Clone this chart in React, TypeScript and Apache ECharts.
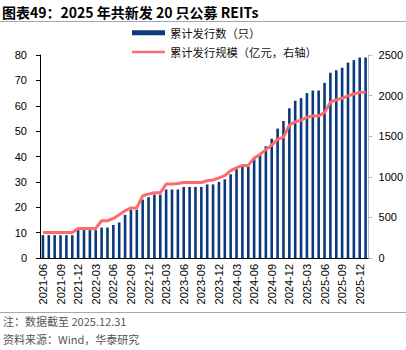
import React, { useEffect, useRef } from "react";
import * as echarts from "echarts";

const categories = [
  "2021-06", "2021-07", "2021-08", "2021-09", "2021-10", "2021-11", "2021-12",
  "2022-01", "2022-02", "2022-03", "2022-04", "2022-05", "2022-06", "2022-07", "2022-08", "2022-09", "2022-10", "2022-11", "2022-12",
  "2023-01", "2023-02", "2023-03", "2023-04", "2023-05", "2023-06", "2023-07", "2023-08", "2023-09", "2023-10", "2023-11", "2023-12",
  "2024-01", "2024-02", "2024-03", "2024-04", "2024-05", "2024-06", "2024-07", "2024-08", "2024-09", "2024-10", "2024-11", "2024-12",
  "2025-01", "2025-02", "2025-03", "2025-04", "2025-05", "2025-06", "2025-07", "2025-08", "2025-09", "2025-10", "2025-11", "2025-12",
  "2025-12-31",
];

const issueCount = [
  9, 9, 9, 9, 9, 9, 11,
  11, 11, 11, 12, 12, 13, 14, 17, 19, 19, 23, 24,
  25, 25, 27, 27, 27, 28, 28, 28, 28, 29, 29, 30,
  31, 33, 35, 36, 36, 39, 41, 44, 47, 51, 54, 59,
  62, 63, 65, 66, 66, 69, 73, 74, 75, 77, 78, 79,
  79,
];

const issueScale = [
  314, 314, 314, 314, 314, 314, 364,
  364, 364, 364, 459, 459, 487, 532, 582, 617, 617, 766, 787,
  803, 803, 910, 910, 917, 930, 930, 930, 930, 952, 961, 986,
  1014, 1075, 1110, 1140, 1140, 1230, 1275, 1335, 1390, 1460, 1488, 1637,
  1676, 1698, 1733, 1750, 1750, 1790, 1918, 1947, 1967, 1996, 2020, 2040,
  2040,
];

const leftTicks = { min: 0, max: 80, interval: 10 };
const rightTicks = { min: 0, max: 2500, interval: 500 };

const titleText = "图表49：2025 年共新发 20 只公募 REITs";
const noteText = "注：数据截至 2025.12.31";
const sourceText = "资料来源：Wind，华泰研究";
const barName = "累计发行数（只）";
const lineName = "累计发行规模（亿元，右轴）";

const CJK = '"Noto Sans CJK SC", "Liberation Sans", sans-serif';
const LATIN = '"Liberation Sans", Arial, sans-serif';

export default function App() {
  const ref = useRef<HTMLDivElement>(null);

  useEffect(() => {
    if (!ref.current) return;
    const chart = echarts.init(ref.current, undefined, { renderer: "svg" });
    chart.setOption({
      animation: false,
      backgroundColor: "#ffffff",
      title: [
        {
          text: titleText,
          left: 2,
          top: 5,
          padding: 0,
          textStyle: { fontSize: 14, fontWeight: "bold", color: "#000", fontFamily: CJK },
        },
        {
          text: noteText,
          left: 3,
          top: 315,
          padding: 0,
          textStyle: { fontSize: 11, fontWeight: "normal", color: "#555", fontFamily: CJK },
        },
        {
          text: sourceText,
          left: 3,
          top: 333,
          padding: 0,
          textStyle: { fontSize: 11, fontWeight: "normal", color: "#555", fontFamily: CJK },
        },
      ],
      graphic: [
        { type: "line", shape: { x1: 0, y1: 21.5, x2: 406, y2: 21.5 }, style: { stroke: "#9aabbd", lineWidth: 1 } },
        { type: "line", shape: { x1: 0, y1: 312.5, x2: 406, y2: 312.5 }, style: { stroke: "#9aabbd", lineWidth: 1 } },
      ],
      legend: {
        orient: "vertical",
        left: 132,
        top: 27,
        padding: 0,
        itemWidth: 33,
        itemHeight: 5,
        itemGap: 8,
        textStyle: { fontSize: 11.3, color: "#111", fontFamily: CJK },
        data: [
          { name: barName, icon: "rect" },
          { name: lineName, icon: "path://M0 0H33V2.6H0Z" },
        ],
      },
      grid: { left: 40, right: 32, top: 55, bottom: 92, containLabel: false },
      xAxis: {
        type: "category",
        data: categories,
        boundaryGap: true,
        axisLine: { lineStyle: { color: "#000", width: 1 } },
        axisTick: { interval: 2, length: 4, lineStyle: { color: "#000" } },
        axisLabel: {
          interval: 2,
          rotate: 90,
          margin: 6,
          fontSize: 11,
          color: "#000",
          fontFamily: LATIN,
          padding: [0, 0, 4, 0],
        },
      },
      yAxis: [
        {
          type: "value",
          min: leftTicks.min,
          max: leftTicks.max,
          interval: leftTicks.interval,
          splitLine: { show: false },
          axisLine: { show: true, lineStyle: { color: "#000" } },
          axisTick: { show: true, length: 4, lineStyle: { color: "#000" } },
          axisLabel: { margin: 13, fontSize: 11, color: "#000", fontFamily: LATIN },
        },
        {
          type: "value",
          min: rightTicks.min,
          max: rightTicks.max,
          interval: rightTicks.interval,
          position: "right",
          splitLine: { show: false },
          axisLine: { show: true, lineStyle: { color: "#bfbfbf" } },
          axisTick: { show: true, length: 4, lineStyle: { color: "#bfbfbf" } },
          axisLabel: {
            margin: 10,
            fontSize: 11,
            color: "#000",
            fontFamily: LATIN,
            formatter: (v: number) => String(v),
          },
        },
      ],
      series: [
        {
          name: barName,
          type: "bar",
          data: issueCount,
          yAxisIndex: 0,
          barWidth: 2.6,
          itemStyle: { color: "#0b3a7c" },
        },
        {
          name: lineName,
          type: "line",
          data: issueScale,
          yAxisIndex: 1,
          symbol: "none",
          showSymbol: false,
          lineStyle: { color: "#ff6b6b", width: 3 },
          itemStyle: { color: "#ff6b6b" },
        },
      ],
    });
    return () => chart.dispose();
  }, []);

  return (
    <div
      ref={ref}
      style={{ position: "fixed", left: 0, top: 0, width: 406, height: 350, background: "#fff" }}
    />
  );
}
